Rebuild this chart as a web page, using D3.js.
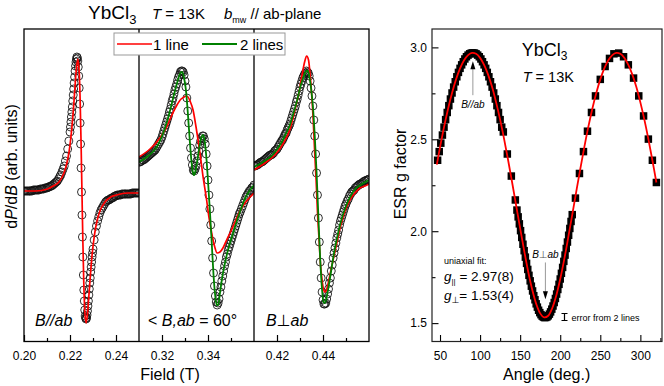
<!DOCTYPE html>
<meta charset="utf-8">
<style>
  body { margin: 0; background: #fff; }
  svg text { font-family: "Liberation Sans", Arial, "DejaVu Sans", sans-serif; fill: #000; }
</style>
<svg width="664" height="386"></svg>
<script src="https://d3js.org/d3.v7.min.js"></script>
<script>
// ---- left: ESR spectra, [field (T), dP/dB (arb.)] ----
var p1Data = [
  [0.2000,-0.01],[0.2005,-0.01],[0.2010,-0.01],[0.2015,-0.01],[0.2020,-0.01],[0.2025,-0.01],[0.2030,-0.01],[0.2035,-0.01],
  [0.2040,0.00],[0.2045,0.00],[0.2050,0.00],[0.2055,0.00],[0.2060,0.00],[0.2065,0.00],[0.2070,0.01],[0.2075,0.01],
  [0.2080,0.01],[0.2085,0.01],[0.2090,0.02],[0.2095,0.02],[0.2100,0.02],[0.2105,0.03],[0.2110,0.03],[0.2115,0.04],
  [0.2120,0.04],[0.2125,0.05],[0.2130,0.06],[0.2135,0.07],[0.2140,0.08],[0.2145,0.09],
  [0.2150,0.11],[0.2155,0.13],[0.2160,0.15],[0.2165,0.18],[0.2170,0.21],[0.2175,0.24],[0.2180,0.29],[0.2185,0.34],
  [0.2190,0.41],[0.2195,0.49],
  [0.2200,0.58],[0.2202,0.63],[0.2204,0.68],[0.2206,0.73],[0.2208,0.78],[0.2210,0.83],[0.2212,0.89],[0.2214,0.95],
  [0.2216,1.01],[0.2218,1.07],[0.2220,1.13],[0.2222,1.19],[0.2224,1.24],[0.2226,1.28],[0.2228,1.31],[0.2230,1.33],
  [0.2232,1.32],[0.2234,1.29],[0.2236,1.23],[0.2238,1.14],[0.2240,1.02],[0.2242,0.86],[0.2244,0.67],[0.2246,0.46],
  [0.2248,0.22],[0.2250,-0.02],
  [0.2252,-0.25],[0.2254,-0.47],[0.2256,-0.67],[0.2258,-0.85],[0.2260,-1.00],[0.2262,-1.11],[0.2264,-1.20],[0.2266,-1.26],
  [0.2268,-1.28],[0.2270,-1.29],[0.2272,-1.28],[0.2274,-1.25],[0.2276,-1.21],[0.2278,-1.16],[0.2280,-1.11],[0.2282,-1.05],
  [0.2284,-0.99],[0.2286,-0.93],[0.2288,-0.88],[0.2290,-0.82],[0.2292,-0.77],[0.2294,-0.72],[0.2296,-0.67],[0.2298,-0.63],
  [0.2300,-0.59],
  [0.2305,-0.50],[0.2310,-0.42],[0.2315,-0.36],[0.2320,-0.31],[0.2325,-0.27],[0.2330,-0.23],[0.2335,-0.20],[0.2340,-0.18],
  [0.2345,-0.16],[0.2350,-0.14],[0.2355,-0.12],[0.2360,-0.11],[0.2365,-0.10],[0.2370,-0.10],[0.2375,-0.09],[0.2380,-0.08],
  [0.2385,-0.08],[0.2390,-0.07],[0.2395,-0.06],[0.2400,-0.06],[0.2405,-0.05],[0.2410,-0.05],[0.2415,-0.05],[0.2420,-0.05],
  [0.2425,-0.04],[0.2430,-0.04],[0.2435,-0.04],[0.2440,-0.04],[0.2445,-0.04],[0.2450,-0.04],[0.2455,-0.04],[0.2460,-0.04],
  [0.2465,-0.04],[0.2470,-0.03],[0.2475,-0.03],[0.2480,-0.03],[0.2485,-0.03],[0.2490,-0.03],[0.2495,-0.03],[0.2500,-0.03]
]
var p1Red = [
  [0.2000,-0.01],[0.2052,-0.01],[0.2102,0.01],[0.2127,0.04],[0.2152,0.08],[0.2172,0.16],[0.2182,0.23],[0.2192,0.33],
  [0.2200,0.45],[0.2208,0.62],[0.2216,0.84],[0.2222,1.04],[0.2228,1.22],[0.2234,1.31],[0.2240,1.18],[0.2244,0.91],
  [0.2248,0.49],[0.2252,-0.02],[0.2256,-0.52],[0.2260,-0.93],[0.2264,-1.20],[0.2270,-1.33],[0.2276,-1.24],[0.2282,-1.06],
  [0.2288,-0.87],[0.2296,-0.65],[0.2304,-0.49],[0.2312,-0.37],[0.2322,-0.27],[0.2332,-0.20],[0.2352,-0.12],[0.2377,-0.07],
  [0.2402,-0.05],[0.2452,-0.03],[0.2500,-0.03]
]

var p2Data = [
  [0.3100,0.28],[0.3105,0.28],[0.3110,0.29],[0.3115,0.30],[0.3120,0.30],[0.3125,0.31],[0.3130,0.32],[0.3135,0.33],
  [0.3140,0.34],[0.3145,0.35],[0.3150,0.36],[0.3155,0.37],[0.3160,0.38],[0.3165,0.39],[0.3170,0.40],[0.3175,0.42],
  [0.3180,0.44],[0.3185,0.46],[0.3190,0.48],[0.3195,0.50],[0.3200,0.53],
  [0.3204,0.56],[0.3208,0.59],[0.3212,0.62],[0.3216,0.65],[0.3220,0.68],[0.3224,0.71],[0.3228,0.74],[0.3232,0.78],
  [0.3236,0.81],[0.3240,0.85],[0.3244,0.89],[0.3248,0.92],[0.3252,0.96],[0.3256,1.00],[0.3260,1.03],[0.3264,1.06],
  [0.3268,1.10],[0.3272,1.13],[0.3276,1.15],[0.3280,1.18],[0.3284,1.19],[0.3288,1.19],[0.3292,1.18],[0.3296,1.15],
  [0.3300,1.09],[0.3304,1.03],[0.3308,0.92],[0.3312,0.79],[0.3316,0.67],[0.3320,0.54],[0.3324,0.42],[0.3328,0.32],
  [0.3332,0.25],[0.3336,0.20],[0.3340,0.19],[0.3344,0.21],[0.3348,0.24],[0.3352,0.29],[0.3356,0.34],[0.3360,0.39],
  [0.3364,0.45],[0.3368,0.49],[0.3372,0.52],[0.3376,0.54],[0.3380,0.54],[0.3384,0.51],[0.3388,0.46],[0.3392,0.36],
  [0.3396,0.24],[0.3400,0.10],[0.3404,-0.05],[0.3408,-0.19],[0.3412,-0.35],[0.3416,-0.51],[0.3420,-0.68],[0.3424,-0.83],
  [0.3428,-0.96],[0.3432,-1.06],[0.3436,-1.12],[0.3440,-1.15],[0.3444,-1.13],[0.3448,-1.09],[0.3452,-1.02],[0.3456,-0.97],
  [0.3460,-0.91],[0.3464,-0.86],[0.3468,-0.81],[0.3472,-0.76],[0.3476,-0.72],[0.3480,-0.67],[0.3484,-0.64],[0.3488,-0.60],
  [0.3492,-0.57],[0.3496,-0.54],[0.3500,-0.51],[0.3504,-0.48],[0.3508,-0.45],[0.3512,-0.42],[0.3516,-0.39],[0.3520,-0.36],
  [0.3524,-0.33],[0.3528,-0.30],[0.3532,-0.27],[0.3536,-0.24],[0.3540,-0.22],
  [0.3545,-0.19],[0.3550,-0.16],[0.3555,-0.13],[0.3560,-0.10],[0.3565,-0.07],[0.3570,-0.05],[0.3575,-0.03],[0.3580,-0.01],
  [0.3585,0.00],[0.3590,0.02],[0.3595,0.03],[0.3600,0.05]
]
var p2Red = [
  [0.3100,0.33],[0.3148,0.41],[0.3191,0.52],[0.3220,0.63],[0.3243,0.75],[0.3265,0.85],[0.3283,0.91],[0.3296,0.93],
  [0.3304,0.94],[0.3313,0.93],[0.3322,0.89],[0.3335,0.80],[0.3348,0.63],[0.3365,0.37],[0.3378,0.14],[0.3394,-0.10],
  [0.3404,-0.27],[0.3416,-0.43],[0.3426,-0.54],[0.3440,-0.63],[0.3452,-0.62],[0.3465,-0.58],[0.3481,-0.50],[0.3496,-0.43],
  [0.3517,-0.32],[0.3539,-0.21],[0.3561,-0.13],[0.3583,-0.07],[0.3600,-0.03]
]
var p2Green = [
  [0.310,0.28],[0.314,0.34],[0.318,0.44],[0.3220,0.67],[0.3240,0.84],[0.3256,0.99],[0.3268,1.09],[0.3276,1.15],
  [0.3284,1.18],[0.3290,1.17],[0.3296,1.12],[0.3304,1.00],[0.3312,0.78],[0.3320,0.52],[0.3328,0.29],[0.3334,0.18],
  [0.3338,0.15],[0.3342,0.16],[0.3348,0.22],[0.3356,0.33],[0.3364,0.45],[0.3372,0.53],[0.3378,0.55],[0.3384,0.51],
  [0.3392,0.35],[0.3400,0.09],[0.3408,-0.20],[0.3416,-0.52],[0.3424,-0.85],[0.3432,-1.07],[0.3438,-1.15],[0.3444,-1.15],
  [0.3452,-1.03],[0.3460,-0.90],[0.3472,-0.75],[0.3488,-0.59],[0.3504,-0.47],[0.3520,-0.35],[0.3540,-0.21],[0.356,-0.09],
  [0.358,-0.01],[0.360,0.05]
]

var p3Data = [
  [0.4100,0.24],[0.4105,0.24],[0.4110,0.25],[0.4115,0.25],[0.4120,0.26],[0.4125,0.27],[0.4130,0.28],[0.4135,0.28],
  [0.4140,0.29],[0.4145,0.30],[0.4150,0.31],[0.4155,0.32],[0.4160,0.33],[0.4165,0.34],[0.4170,0.35],[0.4175,0.35],
  [0.4180,0.36],[0.4185,0.37],[0.4190,0.39],[0.4195,0.40],[0.4200,0.41],[0.4205,0.43],[0.4210,0.45],[0.4215,0.47],
  [0.4220,0.49],[0.4224,0.50],
  [0.4228,0.52],[0.4232,0.54],[0.4236,0.56],[0.4240,0.57],[0.4244,0.60],[0.4248,0.62],[0.4252,0.64],[0.4256,0.66],
  [0.4260,0.69],[0.4264,0.72],[0.4268,0.75],[0.4272,0.78],[0.4276,0.81],[0.4280,0.84],[0.4284,0.88],[0.4288,0.91],
  [0.4292,0.95],[0.4296,0.99],[0.4300,1.03],[0.4304,1.06],[0.4308,1.09],[0.4312,1.12],[0.4316,1.14],[0.4320,1.16],
  [0.4324,1.17],[0.4328,1.19],[0.4332,1.18],[0.4336,1.17],[0.4340,1.14],[0.4344,1.09],[0.4348,1.02],[0.4352,0.94],
  [0.4356,0.84],[0.4360,0.70],[0.4364,0.54],[0.4368,0.36],[0.4372,0.17],[0.4376,-0.05],[0.4380,-0.28],[0.4384,-0.52],
  [0.4388,-0.72],[0.4392,-0.88],[0.4396,-1.02],[0.4400,-1.10],[0.4404,-1.14],[0.4408,-1.14],[0.4412,-1.13],[0.4416,-1.09],
  [0.4420,-1.04],[0.4424,-0.99],[0.4428,-0.93],[0.4432,-0.88],[0.4436,-0.81],[0.4440,-0.75],[0.4444,-0.68],[0.4448,-0.63],
  [0.4452,-0.58],[0.4456,-0.53],[0.4460,-0.48],[0.4464,-0.44],[0.4468,-0.40],[0.4472,-0.35],[0.4476,-0.31],[0.4480,-0.28],
  [0.4484,-0.25],[0.4488,-0.22],[0.4492,-0.19],[0.4496,-0.16],[0.4500,-0.14],
  [0.4505,-0.11],[0.4510,-0.09],[0.4515,-0.06],[0.4520,-0.04],[0.4525,-0.02],[0.4530,-0.01],[0.4535,0.00],[0.4540,0.02],
  [0.4545,0.03],[0.4550,0.04],[0.4555,0.05],[0.4560,0.06],[0.4565,0.06],[0.4570,0.07],[0.4575,0.08],[0.4580,0.09],
  [0.4585,0.09],[0.4590,0.10],[0.4595,0.10],[0.4600,0.11]
]
var p3Red = [
  [0.4100,0.20],[0.4148,0.27],[0.4191,0.35],[0.4226,0.46],[0.4257,0.61],[0.4278,0.80],[0.4296,0.98],[0.4309,1.15],
  [0.4320,1.28],[0.4329,1.34],[0.4337,1.30],[0.4343,1.18],[0.4350,0.98],[0.4357,0.72],[0.4363,0.42],[0.4370,0.10],
  [0.4376,-0.22],[0.4383,-0.50],[0.4389,-0.74],[0.4396,-0.90],[0.4402,-0.99],[0.4409,-1.02],[0.4415,-1.00],[0.4422,-0.94],
  [0.4430,-0.85],[0.4443,-0.71],[0.4457,-0.56],[0.4474,-0.38],[0.4496,-0.21],[0.4517,-0.10],[0.4539,-0.03],[0.4561,0.02],
  [0.4583,0.04],[0.4600,0.06]
]
var p3Green = [
  [0.410,0.23],[0.414,0.28],[0.418,0.35],[0.421,0.44],[0.4236,0.55],[0.4256,0.65],[0.4272,0.77],[0.4288,0.90],
  [0.4300,1.02],[0.4312,1.11],[0.4320,1.16],[0.4328,1.19],[0.4334,1.19],[0.4340,1.14],[0.4348,1.02],[0.4356,0.84],
  [0.4364,0.55],[0.4372,0.18],[0.4380,-0.27],[0.4388,-0.70],[0.4396,-1.00],[0.4402,-1.12],[0.4408,-1.13],[0.4416,-1.07],
  [0.4424,-0.97],[0.4436,-0.80],[0.4448,-0.63],[0.4460,-0.49],[0.4476,-0.33],[0.4500,-0.16],[0.452,-0.06],[0.454,0.01],
  [0.457,0.06],[0.460,0.10]
]

var spectra = [
  { data: p1Data, red: p1Red, green: null, domain: [0.20, 0.25], major: [0.20, 0.22, 0.24], minor: [0.21, 0.23] },
  { data: p2Data, red: p2Red, green: p2Green, domain: [0.31, 0.36], major: [0.32, 0.34], minor: [0.33, 0.35] },
  { data: p3Data, red: p3Red, green: p3Green, domain: [0.41, 0.46], major: [0.42, 0.44], minor: [0.43, 0.45] }
]

// ---- right: g factor vs angle ----
var angleData = [
  [47,2.386],[49,2.433],[51,2.479],[53,2.523],[55,2.566],[57,2.607],[59,2.646],[61,2.683],[63,2.719],[65,2.752],
  [67,2.784],[69,2.813],[71,2.840],[73,2.864],[75,2.886],[77,2.905],[79,2.922],[81,2.937],[83,2.949],[85,2.958],
  [87,2.965],[89,2.969],[91,2.970],[93,2.969],[95,2.965],[97,2.958],[99,2.949],[101,2.937],[103,2.922],[105,2.905],
  [107,2.886],[109,2.864],[111,2.840],[113,2.813],[115,2.784],[117,2.752],[119,2.719],[121,2.683],[123,2.646],
  [125,2.607],[127,2.566],
  [129,2.540],[134,2.420],[139,2.300],[144,2.170],
  [146,2.115],[147.5,2.078],[149,2.040],[150.5,2.003],[152,1.966],[153.5,1.929],[155,1.894],[156.5,1.859],[158,1.825],
  [159.5,1.792],[161,1.760],[162.5,1.730],[164,1.701],[165.5,1.675],[167,1.649],[168.5,1.627],[170,1.605],[171.5,1.587],
  [173,1.570],[174.5,1.557],[176,1.546],[177.5,1.538],[179,1.533],[180.5,1.530],[182,1.531],[183.5,1.534],[185,1.540],
  [186.5,1.549],[188,1.561],[189.5,1.576],[191,1.593],[192.5,1.612],[194,1.634],[195.5,1.658],[197,1.683],[198.5,1.711],
  [200,1.740],[201.5,1.771],[203,1.803],[204.5,1.836],[206,1.870],[207.5,1.906],[209,1.941],[210.5,1.978],[212,2.015],
  [213.5,2.053],[215,2.090],
  [219,2.180],[224,2.314],[229,2.433],[234,2.544],[239,2.646],[244,2.736],[250,2.826],[256,2.896],[261.5,2.940],
  [267,2.965],[273,2.969],[279,2.949],[285,2.905],[291.5,2.833],[298,2.736],[304,2.627],[310,2.501],[315,2.386],
  [320,2.265]
]
var angleFit = [
  [46,2.362],[50,2.456],[55,2.566],[60,2.665],[65,2.752],[70,2.826],[75,2.886],[80,2.930],[85,2.958],[90,2.970],
  [95,2.965],[100,2.943],[105,2.905],[110,2.852],[115,2.784],[120,2.701],[125,2.607],[130,2.501],[135,2.386],
  [140,2.265],[145,2.140],[150,2.015],[155,1.894],[160,1.781],[165,1.683],[170,1.605],[175,1.553],[180,1.531],
  [185,1.540],[190,1.581],[195,1.649],[200,1.740],[205,1.847],[210,1.966],[215,2.090],[220,2.215],[225,2.338],
  [230,2.456],[235,2.566],[240,2.665],[245,2.752],[250,2.826],[255,2.886],[260,2.930],[265,2.958],[270,2.970],
  [275,2.965],[280,2.943],[285,2.905],[290,2.852],[295,2.784],[300,2.701],[305,2.607],[310,2.501],[315,2.386],
  [320,2.265]
]
var angleTicks = [50, 100, 150, 200, 250, 300]
var angleMinor = [75, 125, 175, 225, 275, 325]
var gTicks = [1.5, 2.0, 2.5, 3.0]
var gMinor = [1.75, 2.25, 2.75]

var svg = d3.select('svg')
var plotTop = 29, plotBottom = 341.5
var panelX = [24, 139, 254], panelW = 115

var ySig = d3.scaleLinear().domain([-1.515, 1.61]).range([plotBottom, plotTop])
var defs = svg.append('defs')

spectra.forEach(function (p, i) {
  var x = d3.scaleLinear().domain(p.domain).range([panelX[i], panelX[i] + panelW])
  defs.append('clipPath').attr('id', 'clip' + i)
    .append('rect').attr('x', panelX[i]).attr('y', plotTop).attr('width', panelW).attr('height', plotBottom - plotTop)

  var g = svg.append('g').attr('clip-path', 'url(#clip' + i + ')')
  g.selectAll('circle').data(p.data).enter().append('circle')
    .attr('cx', function (d) { return x(d[0]) })
    .attr('cy', function (d) { return ySig(d[1]) })
    .attr('r', 4)
    .attr('fill', 'none')
    .attr('stroke', '#111')
    .attr('stroke-width', 0.85)

  var line = d3.line()
    .x(function (d) { return x(d[0]) })
    .y(function (d) { return ySig(d[1]) })
    .curve(d3.curveMonotoneX)
  g.append('path').datum(p.red).attr('d', line)
    .attr('fill', 'none').attr('stroke', '#ff0000').attr('stroke-width', 1.7)
  if (p.green) {
    g.append('path').datum(p.green).attr('d', line)
      .attr('fill', 'none').attr('stroke', '#008000').attr('stroke-width', 1.8)
  }

  // inward ticks on bottom
  svg.append('g').attr('transform', 'translate(0,' + plotBottom + ')')
    .call(d3.axisBottom(x).tickValues(p.major).tickSizeInner(-6.5).tickSizeOuter(0)
      .tickPadding(10).tickFormat(d3.format('.2f')))
    .call(function (a) {
      a.select('.domain').remove()
      a.selectAll('text').attr('font-size', 12).attr('font-family', null)
      a.selectAll('line').attr('stroke', '#000').attr('stroke-width', 1.2)
    })
  svg.append('g').attr('transform', 'translate(0,' + plotBottom + ')')
    .call(d3.axisBottom(x).tickValues(p.minor).tickSizeInner(-3.5).tickSizeOuter(0).tickFormat(''))
    .call(function (a) {
      a.select('.domain').remove()
      a.selectAll('line').attr('stroke', '#000').attr('stroke-width', 1.2)
    })
})

// frame and dividers
svg.append('rect').attr('x', panelX[0]).attr('y', plotTop).attr('width', panelW * 3).attr('height', plotBottom - plotTop)
  .attr('fill', 'none').attr('stroke', '#000').attr('stroke-width', 1.3)
svg.selectAll('.divider').data([panelX[1], panelX[2]]).enter().append('line')
  .attr('x1', function (d) { return d }).attr('x2', function (d) { return d })
  .attr('y1', plotTop).attr('y2', plotBottom)
  .attr('stroke', '#000').attr('stroke-width', 1.3)

// legend
var leg = svg.append('g')
leg.append('rect').attr('x', 114).attr('y', 33).attr('width', 171).attr('height', 22)
  .attr('fill', '#fff').attr('stroke', '#999').attr('stroke-width', 1)
leg.append('line').attr('x1', 117).attr('x2', 152).attr('y1', 44).attr('y2', 44)
  .attr('stroke', '#ff0000').attr('stroke-width', 1.7)
leg.append('text').attr('x', 153).attr('y', 50).attr('font-size', 15).text('1 line')
leg.append('line').attr('x1', 202).attr('x2', 237).attr('y1', 44).attr('y2', 44)
  .attr('stroke', '#008000').attr('stroke-width', 1.8)
leg.append('text').attr('x', 240).attr('y', 50).attr('font-size', 15).text('2 lines')

// title
var t1 = svg.append('text').attr('x', 88).attr('y', 19).attr('font-size', 19)
t1.append('tspan').text('YbCl')
t1.append('tspan').attr('font-size', 13).attr('dy', 5).text('3')
var t2 = svg.append('text').attr('x', 152).attr('y', 19).attr('font-size', 15)
t2.append('tspan').attr('font-style', 'italic').text('T')
t2.append('tspan').text(' = 13K')
var t3 = svg.append('text').attr('x', 224).attr('y', 19).attr('font-size', 15)
t3.append('tspan').attr('font-style', 'italic').text('b')
t3.append('tspan').attr('font-size', 9).attr('dy', 4).text('mw')
t3.append('tspan').attr('dy', -4).text(' // ab-plane')

// panel labels
var l1 = svg.append('text').attr('x', 35).attr('y', 326).attr('font-size', 16)
l1.append('tspan').attr('font-style', 'italic').text('B//ab')
var l2 = svg.append('text').attr('x', 148).attr('y', 326).attr('font-size', 16)
l2.append('tspan').text('< ')
l2.append('tspan').attr('font-style', 'italic').text('B,ab')
l2.append('tspan').text(' = 60°')
var l3 = svg.append('text').attr('x', 266).attr('y', 326).attr('font-size', 16)
l3.append('tspan').attr('font-style', 'italic').text('B')
l3.append('tspan').text('⊥')
l3.append('tspan').attr('font-style', 'italic').text('ab')

// axis titles (left)
svg.append('text').attr('x', 170).attr('y', 380).attr('text-anchor', 'middle').attr('font-size', 16).text('Field (T)')
var yl = svg.append('text').attr('transform', 'translate(17,166.5) rotate(-90)')
  .attr('text-anchor', 'middle').attr('font-size', 16)
yl.append('tspan').text('d')
yl.append('tspan').attr('font-style', 'italic').text('P')
yl.append('tspan').text('/d')
yl.append('tspan').attr('font-style', 'italic').text('B')
yl.append('tspan').text(' (arb. units)')

// ---- right panel ----
var rx0 = 432, rx1 = 662
var xA = d3.scaleLinear().domain([40, 327]).range([rx0, rx1])
var yG = d3.scaleLinear().domain([1.4, 3.1]).range([plotBottom, plotTop])

svg.append('g').selectAll('rect').data(angleData).enter().append('rect')
  .attr('x', function (d) { return xA(d[0]) - 3.75 })
  .attr('y', function (d) { return yG(d[1]) - 3.75 })
  .attr('width', 7.5).attr('height', 7.5)
  .attr('fill', '#000')

svg.append('path').datum(angleFit)
  .attr('d', d3.line()
    .x(function (d) { return xA(d[0]) })
    .y(function (d) { return yG(d[1]) })
    .curve(d3.curveCatmullRom))
  .attr('fill', 'none').attr('stroke', '#ff0000').attr('stroke-width', 1.8)

function styleAxis(a) {
  a.select('.domain').remove()
  a.selectAll('text').attr('font-size', 12).attr('font-family', null)
  a.selectAll('line').attr('stroke', '#000').attr('stroke-width', 1.1)
}
svg.append('g').attr('transform', 'translate(0,' + plotBottom + ')')
  .call(d3.axisBottom(xA).tickValues(angleTicks).tickSizeInner(-6.5).tickSizeOuter(0).tickPadding(10))
  .call(styleAxis)
svg.append('g').attr('transform', 'translate(0,' + plotBottom + ')')
  .call(d3.axisBottom(xA).tickValues(angleMinor).tickSizeInner(-3.5).tickSizeOuter(0).tickFormat(''))
  .call(styleAxis)
svg.append('g').attr('transform', 'translate(' + rx0 + ',0)')
  .call(d3.axisLeft(yG).tickValues(gTicks).tickSizeInner(-6.5).tickSizeOuter(0).tickPadding(5)
    .tickFormat(d3.format('.1f')))
  .call(styleAxis)
svg.append('g').attr('transform', 'translate(' + rx0 + ',0)')
  .call(d3.axisLeft(yG).tickValues(gMinor).tickSizeInner(-3.5).tickSizeOuter(0).tickFormat(''))
  .call(styleAxis)

svg.append('rect').attr('x', rx0).attr('y', plotTop).attr('width', rx1 - rx0).attr('height', plotBottom - plotTop)
  .attr('fill', 'none').attr('stroke', '#222').attr('stroke-width', 1.2)

svg.append('text').attr('x', 546.7).attr('y', 380).attr('text-anchor', 'middle').attr('font-size', 16)
  .text('Angle (deg.)')
svg.append('text').attr('transform', 'translate(406,174) rotate(-90)')
  .attr('text-anchor', 'middle').attr('font-size', 16).text('ESR g factor')

var r1 = svg.append('text').attr('x', 521.7).attr('y', 56).attr('font-size', 18)
r1.append('tspan').text('YbCl')
r1.append('tspan').attr('font-size', 12).attr('dy', 4).text('3')
var r2 = svg.append('text').attr('x', 522.7).attr('y', 81.5).attr('font-size', 14.5)
r2.append('tspan').attr('font-style', 'italic').text('T')
r2.append('tspan').text(' = 13K')

// arrows
function arrow(angle, gFrom, gTip, dir) {
  var x = xA(angle), y0 = yG(gFrom), y1 = yG(gTip)
  svg.append('line').attr('x1', x).attr('x2', x).attr('y1', y0).attr('y2', y1 - dir * 5)
    .attr('stroke', '#999').attr('stroke-width', 1)
  svg.append('path')
    .attr('d', 'M' + x + ',' + y1 + 'L' + (x - 2.5) + ',' + (y1 - dir * 8) + 'L' + (x + 2.5) + ',' + (y1 - dir * 8) + 'Z')
    .attr('fill', '#000')
}
arrow(91, 2.74, 2.925, -1)
arrow(181.5, 1.83, 1.63, 1)

svg.append('text').attr('x', xA(91)).attr('y', 108).attr('text-anchor', 'middle')
  .attr('font-size', 10).attr('font-style', 'italic').text('B//ab')
var bp = svg.append('text').attr('x', xA(181.5)).attr('y', 258).attr('text-anchor', 'middle').attr('font-size', 10)
bp.append('tspan').attr('font-style', 'italic').text('B')
bp.append('tspan').attr('fill', '#555').text('⊥')
bp.append('tspan').attr('font-style', 'italic').text('ab')

svg.append('text').attr('x', 444).attr('y', 264).attr('font-size', 9).attr('fill', '#333').text('uniaxial fit:')
var g1 = svg.append('text').attr('x', 444).attr('y', 281).attr('font-size', 13.5)
g1.append('tspan').attr('font-style', 'italic').text('g')
g1.append('tspan').attr('font-size', 8).attr('dy', 3).text('||')
g1.append('tspan').attr('dy', -3).text(' = 2.97(8)')
var g2 = svg.append('text').attr('x', 444).attr('y', 300).attr('font-size', 13.5)
g2.append('tspan').attr('font-style', 'italic').text('g')
g2.append('tspan').attr('font-size', 9).attr('dy', 3).text('⊥')
g2.append('tspan').attr('dy', -3).text('= 1.53(4)')

// error bar legend
var ex = 564.5
svg.append('path')
  .attr('d', 'M' + (ex - 3) + ',313.5H' + (ex + 3) + 'M' + ex + ',313.5V320.5M' + (ex - 3) + ',320.5H' + (ex + 3))
  .attr('stroke', '#000').attr('stroke-width', 1.2).attr('fill', 'none')
svg.append('text').attr('x', 571.5).attr('y', 320.5).attr('font-size', 9).attr('fill', '#222')
  .text('error from 2 lines')
</script>
